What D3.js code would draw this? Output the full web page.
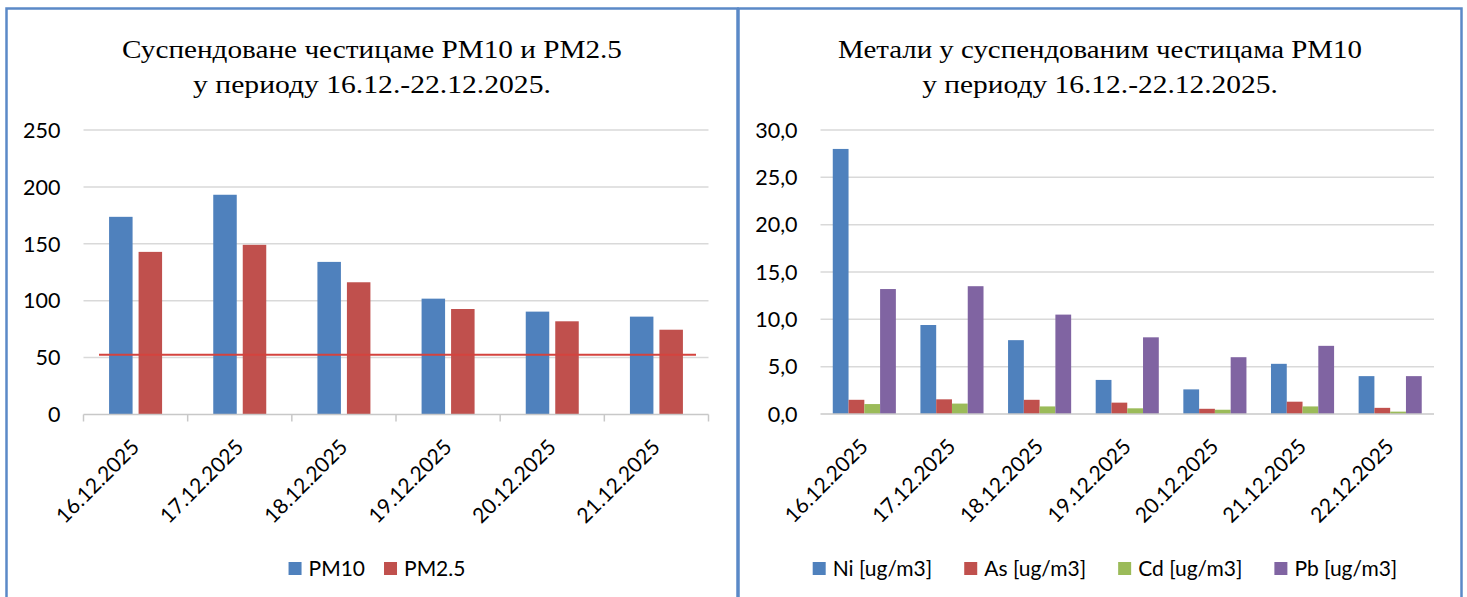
<!DOCTYPE html>
<html>
<head>
<meta charset="utf-8">
<script src="https://cdn.jsdelivr.net/npm/d3@7"></script>
<style>
  html, body { margin: 0; padding: 0; background: #fff; }
  svg { display: block; }
</style>
</head>
<body>
<svg id="chart" width="1467" height="597"></svg>
<script>
// ---- data ----
var pmDates = ['16.12.2025', '17.12.2025', '18.12.2025', '19.12.2025', '20.12.2025', '21.12.2025'];
var pm10 = [173.7, 193.1, 134.1, 101.8, 90.4, 86.0];
var pm25 = [142.9, 149.1, 116.2, 92.7, 81.9, 74.5];
var pmLimit = 52.5;
var pmTicks = [0, 50, 100, 150, 200, 250];
var pmSeries = ['PM10', 'PM2.5'];

var metalDates = ['16.12.2025', '17.12.2025', '18.12.2025', '19.12.2025', '20.12.2025', '21.12.2025', '22.12.2025'];
var ni = [28.0, 9.4, 7.8, 3.6, 2.6, 5.3, 4.0];
var as = [1.5, 1.55, 1.5, 1.2, 0.55, 1.3, 0.65];
var cd = [1.05, 1.1, 0.8, 0.6, 0.45, 0.8, 0.25];
var pb = [13.2, 13.5, 10.5, 8.1, 6.0, 7.2, 4.0];
var metalTicks = [0, 5, 10, 15, 20, 25, 30];
var metalSeries = ['Ni [ug/m3]', 'As [ug/m3]', 'Cd [ug/m3]', 'Pb [ug/m3]'];

var blue = '#4f81bd', red = '#c0504d', green = '#9bbb59', purple = '#8064a2';
var sansFont = "Lato, 'Open Sans', sans-serif";
var serifFont = "'Liberation Serif', 'Times New Roman', serif";

var svg = d3.select('#chart');

// panel borders
svg.append('rect').attr('x', 6.5).attr('y', 8.5).attr('width', 731).attr('height', 600)
   .attr('fill', 'none').attr('stroke', '#5b89c7').attr('stroke-width', 2.5);
svg.append('rect').attr('x', 738.5).attr('y', 8.5).attr('width', 723).attr('height', 600)
   .attr('fill', 'none').attr('stroke', '#5b89c7').attr('stroke-width', 2.5);

// title lines are stretched sideways to the reference width
function drawTitle(lines, cx, widths) {
    lines.forEach(function(t, i) {
        var txt = svg.append('text')
           .attr('text-anchor', 'middle')
           .attr('font-family', serifFont).attr('font-size', 25)
           .attr('fill', '#000')
           .text(t);
        var w = txt.node().getComputedTextLength();
        txt.attr('transform', 'translate(' + cx + ',' + (58 + i * 35) + ') scale(' + (widths[i] / w) + ',1)');
    });
}

function drawChart(opt) {
    var g = svg.append('g');
    var x = d3.scaleBand().domain(opt.dates).range([opt.left, opt.right]);
    var y = d3.scaleLinear().domain([0, opt.ticks[opt.ticks.length - 1]]).range([opt.bottom, opt.top]);
    var bw = x.bandwidth();
    var barW = bw * opt.barFrac, gap = bw * opt.gapFrac;
    var groupW = barW * opt.series.length + gap * (opt.series.length - 1);

    // gridlines
    g.selectAll('.grid').data(opt.ticks.slice(1)).enter().append('line')
     .attr('x1', opt.left).attr('x2', opt.right)
     .attr('y1', function(d) { return y(d); }).attr('y2', function(d) { return y(d); })
     .attr('stroke', '#d9d9d9').attr('stroke-width', 1.5);

    // y tick labels
    g.selectAll('.ylab').data(opt.ticks).enter().append('text')
     .attr('x', opt.left - 23).attr('y', function(d) { return y(d); })
     .attr('dy', '0.36em').attr('text-anchor', 'end')
     .attr('font-family', sansFont).attr('font-size', 21.5).attr('fill', '#000')
     .text(opt.fmt);

    // bars
    opt.values.forEach(function(vals, si) {
        g.selectAll('.bar' + si).data(vals).enter().append('rect')
         .attr('x', function(d, i) { return x(opt.dates[i]) + (bw - groupW) / 2 + si * (barW + gap); })
         .attr('y', function(d) { return y(d); })
         .attr('width', barW)
         .attr('height', function(d) { return y(0) - y(d); })
         .attr('fill', opt.colors[si]);
    });

    // x axis line and ticks
    g.append('line').attr('x1', opt.left).attr('x2', opt.right)
     .attr('y1', y(0)).attr('y2', y(0))
     .attr('stroke', '#c8c8c8').attr('stroke-width', 1.5);
    if (opt.tickMarks) {
        var edges = opt.dates.map(function(d) { return x(d); }).concat([opt.right]);
        g.selectAll('.xtick').data(edges).enter().append('line')
         .attr('x1', function(d) { return d; }).attr('x2', function(d) { return d; })
         .attr('y1', y(0)).attr('y2', y(0) + 7)
         .attr('stroke', '#c8c8c8').attr('stroke-width', 1.5);
    }

    // x labels, rotated
    g.selectAll('.xlab').data(opt.dates).enter().append('text')
     .attr('transform', function(d) {
         return 'translate(' + (x(d) + bw / 2 + 5) + ',' + (y(0) + 34) + ') rotate(-45)';
     })
     .attr('text-anchor', 'end')
     .attr('font-family', sansFont).attr('font-size', 21).attr('fill', '#000')
     .text(function(d) { return d; });

    // legend, centred in the panel
    var lg = g.append('g');
    var cursor = 0;
    opt.series.forEach(function(s, i) {
        lg.append('rect').attr('x', cursor).attr('y', 562).attr('width', 13).attr('height', 13)
          .attr('fill', opt.colors[i]);
        var t = lg.append('text').attr('x', cursor + 20).attr('y', 576)
          .attr('font-family', sansFont).attr('font-size', 21).attr('fill', '#000')
          .text(s);
        cursor += 20 + t.node().getComputedTextLength() + opt.legendGap;
    });
    var lw = cursor - opt.legendGap;
    lg.attr('transform', 'translate(' + (opt.legendCx - lw / 2) + ',0)');

    return {x: x, y: y};
}

drawTitle(['Суспендоване честицаме PM10 и PM2.5', 'у периоду 16.12.-22.12.2025.'], 372, [500, 358]);
drawTitle(['Метали у суспендованим честицама PM10', 'у периоду 16.12.-22.12.2025.'], 1100, [524, 356]);

var left = drawChart({
    dates: pmDates, values: [pm10, pm25], series: pmSeries, colors: [blue, red],
    ticks: pmTicks, fmt: d3.format('d'),
    left: 83.5, right: 708.5, top: 130, bottom: 414.5,
    barFrac: 0.2256, gapFrac: 0.0576, tickMarks: true,
    legendCx: 377, legendGap: 19
});

// limit line
svg.append('line')
   .attr('x1', left.x.range()[0] + 15.5).attr('x2', left.x.range()[1] - 12.5)
   .attr('y1', left.y(pmLimit)).attr('y2', left.y(pmLimit))
   .attr('stroke', '#d4433e').attr('stroke-width', 2);

drawChart({
    dates: metalDates, values: [ni, as, cd, pb], series: metalSeries, colors: [blue, red, green, purple],
    ticks: metalTicks, fmt: function(d) { return d3.format('.1f')(d).replace('.', ','); },
    left: 820.5, right: 1434, top: 130, bottom: 414,
    barFrac: 0.18, gapFrac: 0, tickMarks: false,
    legendCx: 1105, legendGap: 32
});
</script>
</body>
</html>
